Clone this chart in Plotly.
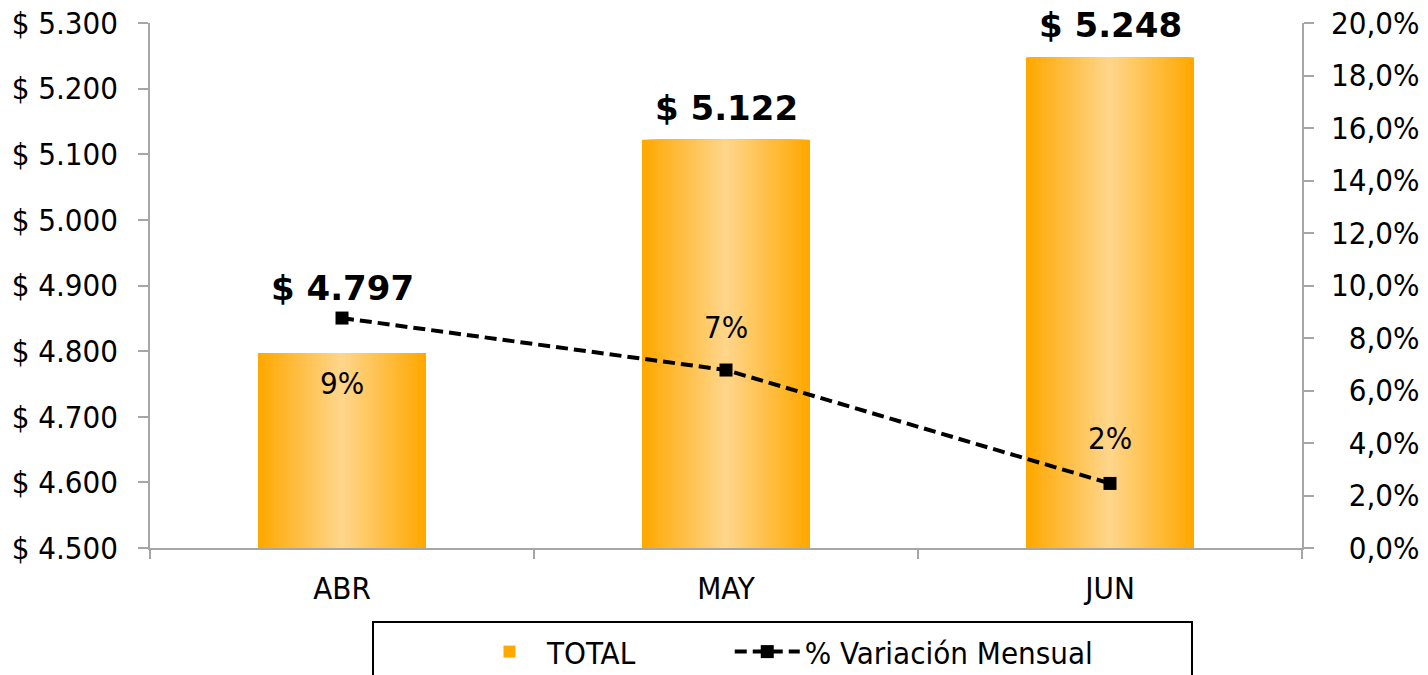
import plotly.graph_objects as go

# ---- data ----
months = ["ABR", "MAY", "JUN"]
total = [4797, 5122, 5248]
variacion = [0.0876, 0.0678, 0.0246]  # % variación mensual (fraction)
pct_ticks = [0.00, 0.02, 0.04, 0.06, 0.08, 0.10, 0.12, 0.14, 0.16, 0.18, 0.20]

# ---- style ----
FONT = "'DejaVu Sans Condensed', 'DejaVu Sans', sans-serif"
BOLD_FONT = "'DejaVu Sans', sans-serif"
AX = "#A6A6A6"
edge = (255, 168, 0)
center = (255, 213, 138)
BAR_W = 0.4375
N_LAYERS = 28
NBSP = "\u00a0"
FIGSP = "\u2007"

pct_text = [f"{v*100:.1f}%".replace(".", ",").rjust(5, FIGSP) for v in pct_ticks]

fig = go.Figure()

# Gradient bars built from overlaid bars of decreasing width (same values)
for i in range(N_LAYERS):
    t = i / (N_LAYERS - 1)
    c = tuple(round(edge[k] + (center[k] - edge[k]) * t) for k in range(3))
    fig.add_trace(go.Bar(
        x=months, y=total, name="TOTAL" + NBSP * 10,
        width=BAR_W * (1 - i / N_LAYERS),
        marker=dict(color="rgb(%d,%d,%d)" % c, line=dict(width=0)),
        opacity=1, showlegend=(i == 0), legendrank=1,
        hoverinfo="skip" if i else None,
    ))

fig.add_trace(go.Scatter(
    x=months, y=variacion, name="% Variación Mensual", yaxis="y2",
    mode="lines+markers",
    line=dict(color="black", width=4, dash="12px,6px"),
    marker=dict(symbol="square", size=13, color="black"),
    legendrank=2,
))

annotations = []
# Total labels
shifts_total = [65, 32, 32]
for m, v, s in zip(months, total, shifts_total):
    annotations.append(dict(
        x=m, y=v, xref="x", yref="y", yshift=s, yanchor="middle",
        text="$ " + f"{v:,}".replace(",", "."), showarrow=False,
        font=dict(family=BOLD_FONT, size=34, color="black", weight="bold"),
    ))
# Percentage labels
shifts_pct = [-65, 43, 45]
for m, v, s in zip(months, variacion, shifts_pct):
    annotations.append(dict(
        x=m, y=v, xref="x", yref="y2", yshift=s, yanchor="middle",
        text=f"{v*100:.0f}%", showarrow=False,
        font=dict(family=FONT, size=31, color="black"),
    ))

fig.update_layout(
    width=1420, height=667,
    margin=dict(l=142, r=126, t=15, b=127, autoexpand=False),
    paper_bgcolor="white", plot_bgcolor="white",
    barmode="overlay", separators=",.",
    font=dict(family=FONT, size=31, color="black"),
    xaxis=dict(
        type="category", categoryorder="array", categoryarray=months,
        range=[-0.5, 2.5], tickson="boundaries", ticks="outside", ticklen=9,
        tickcolor=AX, tickwidth=1.5, showline=True, linecolor=AX, linewidth=1.5,
        showgrid=False, zeroline=False, ticklabelstandoff=12,
        tickfont=dict(family=FONT, size=31, color="black"),
    ),
    xaxis2=dict(
        overlaying="x", anchor="y", side="bottom", range=[-0.5, 2.5],
        tickmode="array", tickvals=[-0.5, 0.5, 1.5, 2.5], ticks="inside",
        ticklen=9, tickcolor=AX, tickwidth=1.5, showticklabels=False,
        showline=False, showgrid=False, zeroline=False,
    ),
    yaxis=dict(
        range=[4500, 5300], dtick=100, tick0=4500, tickprefix="$ ",
        tickformat=",d", ticks="outside", ticklen=10, tickcolor=AX,
        tickwidth=1.5, showline=True, linecolor=AX, linewidth=1.5,
        showgrid=False, zeroline=False, ticklabelstandoff=14,
        ticklabeloverflow="allow",
        tickfont=dict(family=FONT, size=31, color="black"),
    ),
    yaxis3=dict(
        overlaying="y", anchor="x", side="left", range=[4500, 5300], dtick=100,
        tick0=4500, ticks="inside", ticklen=10, tickcolor=AX, tickwidth=1.5,
        showticklabels=False, showline=False, showgrid=False, zeroline=False,
    ),
    yaxis2=dict(
        overlaying="y", side="right", anchor="x", range=[0, 0.2],
        tickmode="array", tickvals=pct_ticks, ticktext=pct_text,
        ticks="outside", ticklen=10, tickcolor=AX,
        tickwidth=1.5, showline=True, linecolor=AX, linewidth=1.5,
        showgrid=False, zeroline=False, ticklabelstandoff=11,
        ticklabeloverflow="allow",
        tickfont=dict(family=FONT, size=31, color="black"),
    ),
    yaxis4=dict(
        overlaying="y", side="right", anchor="x", range=[0, 0.2],
        tickmode="array", tickvals=pct_ticks, ticks="inside", ticklen=10,
        tickcolor=AX, tickwidth=1.5,
        showticklabels=False, showline=False, showgrid=False, zeroline=False,
    ),
    legend=dict(
        orientation="h", x=0.2795, xanchor="left", y=-0.198, yanchor="middle",
        bgcolor="rgba(0,0,0,0)", borderwidth=0, itemwidth=65,
        font=dict(family=FONT, size=31, color="black"),
    ),
    shapes=[dict(
        type="rect", xref="paper", yref="paper",
        x0=(373 - 150) / 1152, x1=(1192 - 150) / 1152,
        y0=(548 - 622) / 525, y1=(548 - 700) / 525,
        line=dict(color="black", width=2), fillcolor="rgba(0,0,0,0)",
    )],
    annotations=annotations,
    showlegend=True,
)

fig.write_html("out.html")
